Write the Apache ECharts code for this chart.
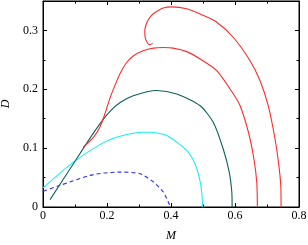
<!DOCTYPE html>
<html>
<head>
<meta charset="utf-8">
<script src="https://cdn.jsdelivr.net/npm/echarts@6/dist/echarts.min.js"></script>
<style>html,body{margin:0;padding:0;background:#fff}#c{width:308px;height:245px}</style>
</head>
<body>
<div id="c"></div>
<script>
// ---- data ----
const xTicks = [0, 0.2, 0.4, 0.6, 0.8];
const xTickLabels = ['0', '0.2', '0.4', '0.6', '0.8'];
const yTicks = [0, 0.1, 0.2, 0.3];
const yTickLabels = ['0', '0.1', '0.2', '0.3'];

const blueM = [0.001, 0.053, 0.147, 0.188, 0.241, 0.303, 0.345, 0.376, 0.395, 0.397];
const blueD = [0.0266, 0.0368, 0.0537, 0.0576, 0.0593, 0.0566, 0.0424, 0.0254, 0.004, 0];

const cyanM = [0, 0.095, 0.178, 0.230, 0.313, 0.334, 0.387, 0.449, 0.475, 0.489, 0.496, 0.499];
const cyanD = [0.0325, 0.0763, 0.106, 0.1186, 0.127, 0.127, 0.1215, 0.0961, 0.0736, 0.0486, 0.025, 0];

const tealM = [0.022, 0.095, 0.147, 0.183, 0.210, 0.240, 0.282, 0.355, 0.418, 0.491, 0.532, 0.563, 0.582, 0.590, 0.591];
const tealD = [0.0125, 0.0736, 0.117, 0.145, 0.163, 0.177, 0.189, 0.198, 0.192, 0.172, 0.144, 0.099, 0.0593, 0.0254, 0];

const redInM = [0.126, 0.157, 0.178, 0.194, 0.209, 0.225, 0.241, 0.262, 0.283, 0.313, 0.345, 0.376, 0.407, 0.449, 0.491, 0.543, 0.595, 0.616, 0.642, 0.659, 0.668, 0.670];
const redInD = [0.102, 0.118, 0.136, 0.159, 0.1845, 0.207, 0.227, 0.246, 0.257, 0.2655, 0.270, 0.271, 0.270, 0.264, 0.2515, 0.2317, 0.192, 0.172, 0.127, 0.082, 0.042, 0];

const redOutM = [0.343, 0.334, 0.325, 0.319, 0.318, 0.322, 0.329, 0.340, 0.350, 0.376, 0.402, 0.449, 0.491, 0.543, 0.595, 0.647, 0.678, 0.704, 0.725, 0.737, 0.743, 0.744];
const redOutD = [0.278, 0.2758, 0.280, 0.289, 0.2995, 0.3097, 0.318, 0.326, 0.3305, 0.338, 0.340, 0.3368, 0.3278, 0.314, 0.288, 0.2486, 0.215, 0.172, 0.116, 0.0707, 0.0368, 0];

// ---- chart ----
const pairs = (m, d) => m.map((v, i) => [v, d[i]]);
const font = 'Liberation Serif';
const labelFrom = (ticks, labels) => v => {
  const i = ticks.findIndex(t => Math.abs(t - v) < 1e-9);
  return i >= 0 ? labels[i] : '';
};

const xBase = {
  type: 'value', min: 0, max: 0.8, interval: 0.2,
  axisLine: { show: true, onZero: false, lineStyle: { color: '#000', width: 1 } },
  axisTick: { show: true, inside: true, length: 4, lineStyle: { color: '#000' } },
  minorTick: { show: true, splitNumber: 2, length: 2.5, lineStyle: { color: '#000' } },
  splitLine: { show: false },
};
const yMajor = {
  type: 'value', min: 0, max: 0.35, interval: 0.1, offset: 0,
  axisLine: { show: true, onZero: false, lineStyle: { color: '#000', width: 1 } },
  axisTick: { show: true, inside: true, length: 4, lineStyle: { color: '#000' } },
  splitLine: { show: false },
};
const yMinor = {
  type: 'value', min: 0, max: 0.35, interval: 0.05, offset: 0,
  axisLine: { show: false, onZero: false },
  axisTick: { show: true, inside: true, length: 2.5, lineStyle: { color: '#000' } },
  axisLabel: { show: false },
  splitLine: { show: false },
};

const lineSeries = (name, data, color, dashed) => ({
  name, type: 'line', data, xAxisIndex: 0, yAxisIndex: 0,
  showSymbol: false, smooth: 0.25, animation: false,
  lineStyle: { color, width: 1.1, type: dashed ? [4, 3] : 'solid' },
});

const chart = echarts.init(document.getElementById('c'), null, { renderer: 'canvas' });
chart.setOption({
  animation: false,
  grid: { left: 43, right: 9, top: 1, bottom: 38, containLabel: false, outerBoundsMode: 'none',
    show: true, borderColor: '#000', borderWidth: 1, backgroundColor: 'transparent' },
  xAxis: [
    Object.assign({}, xBase, {
      position: 'bottom',
      name: 'M', nameLocation: 'middle', nameGap: 23,
      nameTextStyle: { fontFamily: font, fontStyle: 'italic', fontSize: 12, color: '#000' },
      axisLabel: { show: true, margin: 3, fontFamily: font, fontSize: 12, color: '#000',
        formatter: labelFrom(xTicks, xTickLabels) },
    }),
    Object.assign({}, xBase, { position: 'top', offset: 0, axisLabel: { show: false } }),
  ],
  yAxis: [
    Object.assign({}, yMajor, {
      position: 'left',
      name: 'D', nameLocation: 'middle', nameGap: 27,
      nameTextStyle: { fontFamily: font, fontStyle: 'italic', fontSize: 12, color: '#000' },
      axisLabel: { show: true, margin: 5, fontFamily: font, fontSize: 12, color: '#000',
        showMaxLabel: false, formatter: labelFrom(yTicks, yTickLabels) },
    }),
    Object.assign({}, yMajor, { position: 'right', axisLabel: { show: false } }),
    Object.assign({}, yMinor, { position: 'left' }),
    Object.assign({}, yMinor, { position: 'right' }),
  ],
  series: [
    lineSeries('blue', pairs(blueM, blueD), '#2a2aff', true),
    lineSeries('cyan', pairs(cyanM, cyanD), '#19f0f0', false),
    lineSeries('teal', pairs(tealM, tealD), '#0f5f5c', false),
    lineSeries('redInner', pairs(redInM, redInD), '#ff2a2a', false),
    lineSeries('redOuter', pairs(redOutM, redOutD), '#ff2a2a', false),
  ],
});
</script>
</body>
</html>
